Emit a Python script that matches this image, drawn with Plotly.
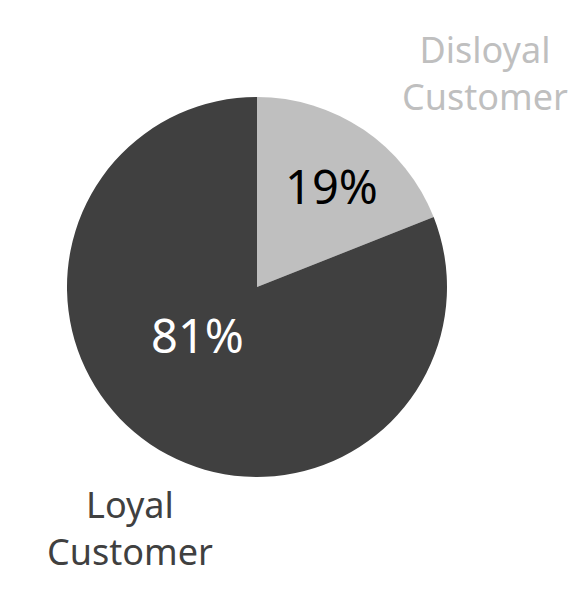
import plotly.graph_objects as go

labels = ["Disloyal Customer", "Loyal Customer"]
values = [19, 81]
colors = ["#bfbfbf", "#404040"]
text_colors = ["#000000", "#ffffff"]
label_colors = ["#bfbfbf", "#404040"]

W, H = 586, 600
# the page adds an 8px body margin, so figure coords = screen coords - 8
cx, cy, r = 249, 279, 190

fig = go.Figure(go.Pie(
    labels=labels,
    values=values,
    sort=False,
    direction="clockwise",
    rotation=0,
    marker=dict(colors=colors, line=dict(width=0)),
    textinfo="percent",
    texttemplate=["&nbsp;%{percent:.0%}", "%{percent:.0%}&nbsp;<br> "],
    textposition="inside",
    insidetextorientation="horizontal",
    insidetextfont=dict(color=text_colors, size=47, family="Noto Sans"),
    hoverinfo="label+percent",
    showlegend=False,
    domain=dict(x=[(cx - r) / W, (cx + r) / W], y=[(H - cy - r) / H, (H - cy + r) / H]),
))

# outside labels
ann_pos = [(477, 65), (122, 520)]
annotations = []
for lab, col, (x, y) in zip(labels, label_colors, ann_pos):
    annotations.append(dict(
        text=lab.replace(" ", "<br>"), x=x / W, y=1 - y / H, xref="paper", yref="paper",
        showarrow=False, font=dict(size=36, color=col, family="Noto Sans"),
        align="center", xanchor="center", yanchor="middle",
    ))

fig.update_layout(
    width=W, height=H,
    margin=dict(l=0, r=0, t=0, b=0),
    paper_bgcolor="white", plot_bgcolor="white",
    annotations=annotations,
)
fig.write_html("out.html")
